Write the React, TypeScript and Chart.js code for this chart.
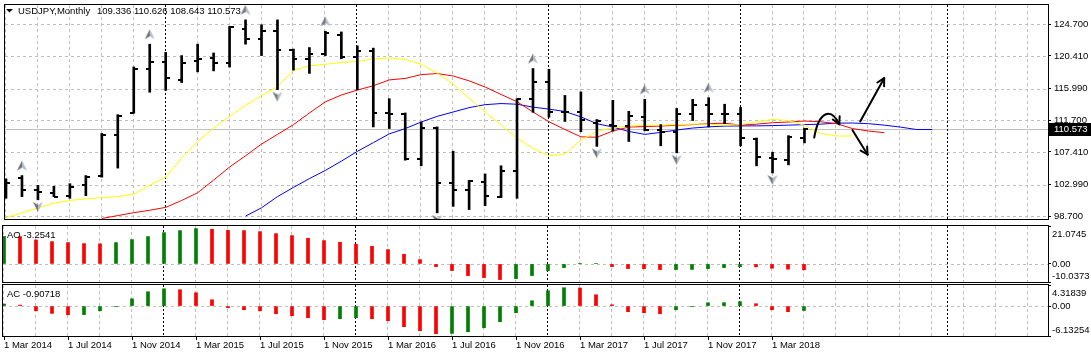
import React, { useEffect, useRef } from 'react';
import { Chart, registerables } from 'chart.js';

Chart.register(...registerables);

// ---------------- data ----------------
const symbolTitle = 'USDJPY,Monthly';
const quoteText = '109.336 110.626 108.643 110.573';
const aoTitle = 'AO -3.2541';
const acTitle = 'AC -0.90718';
const lastPrice = 110.573;

// one label every 4 monthly bars, starting at bar 0
const xLabels = [
  '1 Mar 2014', '1 Jul 2014', '1 Nov 2014', '1 Mar 2015', '1 Jul 2015', '1 Nov 2015',
  '1 Mar 2016', '1 Jul 2016', '1 Nov 2016', '1 Mar 2017', '1 Jul 2017', '1 Nov 2017', '1 Mar 2018',
];
const barsPerLabel = 4;

const opens = [
  102.6, 103.9, 102.33, 101.9, 101.46, 102.9, 104.22, 109.7, 112.65, 118.7,
  119.57, 117.16, 119.75, 120.15, 119.5, 124.1, 122.65, 123.83, 121.2, 119.92,
  120.6, 123.21, 120.23, 121.11, 112.72, 112.6, 106.41, 110.67, 103.2, 102.3,
  103.4, 101.3, 104.9, 114.53, 116.9, 112.8, 112.8, 111.37, 111.11, 110.94,
  112.12, 110.32, 110.15, 112.6, 113.74, 112.6, 112.6, 109.2, 106.6, 106.28,
  109.336,
];
const highs = [
  103.78, 104.22, 102.9, 102.77, 103.12, 104.22, 109.92, 112.46, 118.91, 121.99,
  120.88, 120.45, 121.99, 120.8, 124.4, 125.28, 124.62, 125.28, 121.33, 121.54,
  123.74, 123.65, 121.77, 121.46, 114.62, 112.69, 111.46, 110.8, 107.52, 103.57,
  104.44, 105.54, 114.62, 118.7, 118.61, 115.06, 115.54, 111.8, 114.4, 112.91,
  114.53, 111.11, 113.3, 114.53, 114.75, 113.87, 113.44, 109.3, 107.38, 109.62,
  110.626,
];
const lows = [
  101.15, 101.37, 100.94, 101.37, 101.15, 101.5, 104.0, 105.23, 112.65, 115.49,
  115.75, 116.8, 118.25, 118.38, 118.9, 121.99, 120.45, 115.84, 118.48, 118.04,
  120.45, 120.02, 115.84, 110.8, 110.58, 106.3, 105.54, 99.17, 100.05, 99.62,
  100.15, 101.24, 101.15, 112.78, 112.12, 111.54, 110.15, 108.17, 110.23, 108.83,
  110.28, 108.25, 107.29, 111.67, 110.8, 111.24, 108.25, 105.54, 104.57, 105.67,
  108.643,
];
const closes = [
  103.25, 102.33, 102.03, 101.37, 102.69, 104.09, 109.7, 112.33, 118.7, 119.57,
  117.46, 119.44, 119.95, 119.49, 124.27, 122.65, 123.83, 121.24, 119.92, 120.67,
  123.52, 120.23, 121.11, 112.72, 112.56, 106.45, 110.67, 103.25, 102.25, 103.5,
  101.46, 104.88, 114.53, 116.94, 112.86, 112.8, 111.67, 111.54, 110.94, 112.33,
  110.36, 110.15, 112.51, 113.74, 112.56, 112.6, 109.27, 106.77, 106.4, 109.49,
  110.573,
];

// Alligator lines (shifted forward into the future area)
const lipsStart = 0;
const lips = [
  98.52, 99.2, 99.86, 100.49, 100.85, 101.07, 101.24, 101.37, 101.73, 102.91,
  104.0, 106.63, 108.83, 110.65, 112.23, 113.74, 115.06, 116.24, 118.48, 119.07,
  119.27, 119.53, 119.66, 119.99, 120.12, 119.92, 119.27, 118.08, 116.57, 114.66,
  112.82, 111.04, 109.27, 107.88, 106.9, 107.16, 109.0, 110.19, 110.71, 110.91,
  111.04, 111.04, 111.11, 111.17, 111.17, 111.04, 111.11, 111.5, 111.81, 111.67,
  111.02, 109.92, 109.57, 109.57,
];
const teethStart = 6;
const teeth = [
  98.41, 98.81, 99.2, 99.53, 99.92, 100.85, 101.9, 103.61, 105.38, 106.9,
  108.48, 109.79, 111.11, 112.69, 114.2, 115.12, 115.78, 116.37, 117.16, 117.36,
  117.88, 118.02, 117.69, 117.03, 116.2, 115.19, 114.2, 112.82, 111.5, 110.45,
  109.46, 109.4, 110.25, 110.78, 110.85, 110.91, 111.04, 111.11, 111.24, 111.31,
  111.04, 111.17, 111.37, 111.46, 111.6, 111.5, 111.24, 110.58, 110.25, 110.02,
];
const jawStart = 15;
const jaw = [
  98.74, 99.86, 101.37, 102.62, 103.81, 104.92, 106.17, 107.49, 108.67, 109.86,
  110.58, 111.46, 112.23, 112.82, 113.41, 113.81, 113.96, 113.87, 113.48, 113.21,
  112.88, 112.16, 111.24, 110.78, 110.19, 109.79, 110.06, 110.38, 110.65, 110.81,
  110.91, 110.94, 110.94, 110.98, 111.04, 111.11, 111.17, 111.31, 111.33, 111.24,
  111.04, 110.78, 110.45, 110.45,
];

const aoValues = [
  15.3, 15.19, 13.33, 12.41, 11.85, 11.3, 11.2, 11.85, 13.52, 15.19,
  17.41, 18.52, 19.63, 19.26, 18.7, 18.52, 17.96, 16.85, 15.74, 14.26,
  12.96, 12.04, 10.93, 9.81, 7.96, 5.37, 2.41, -1.48, -3.7, -6.48,
  -7.59, -8.7, -8.15, -6.48, -3.7, -2.04, 0.2, 0.35, -1.48, -2.59,
  -2.6, -3.15, -3.1, -3.05, -2.6, -2.04, -1.48, -1.6, -2.4, -2.9,
  -3.2541,
];
const acValues = [
  0.41, 0.2, -0.96, -1.5, -1.78, -1.75, -0.96, -0.14, 1.5, 2.94,
  3.55, 3.35, 2.73, 1.3, -0.34, -0.75, -0.96, -1.57, -1.98, -2.39,
  -2.8, -2.6, -2.39, -2.6, -3.0, -4.23, -5.05, -5.67, -5.6, -5.26,
  -4.44, -3.21, -1.37, 1.09, 3.14, 3.76, 3.7, 2.32, 0.27, -1.16,
  -1.37, -1.57, -0.75, -0.14, 0.68, 0.7, 0.89, 0.48, -0.75, -1.16,
  -0.90718,
];

const upFractalBars = [1, 9, 15, 20, 33, 40, 44];
const downFractalBars = [2, 17, 27, 37, 42, 48];

const priceTicks = [124.7, 120.41, 115.99, 111.7, 107.41, 102.99, 98.7];
const aoTicks = [21.0745, 0, -10.0373];
const acTicks = [4.31839, 0, -6.13254];
const separatorBars = [10, 22, 34, 46, 59];

// hand-drawn arrows, in (bar index, price)
const curvedArrow = [[50.61, 109.36], [50.9, 112.95], [51.66, 113.48], [52.18, 111.17]];
const straightArrows = [
  [[53.49, 111.54], [54.99, 117.39]],
  [[53.01, 110.36], [53.95, 107.07]],
];

// ---------------- layout / style ----------------
const W = 1091;
const AXIS_W = 43;
const X_MIN = -0.0625;
const X_MAX = 65.25;
const GRID_LAST = 64;
const PRICE_MIN = 98.345;
const PRICE_MAX = 127.292;
const FAMILY = '"Liberation Sans", Arial, sans-serif';
const FSIZE = 9.5;
const FONT_CSS = `${FSIZE}px ${FAMILY}`;
const GRAY = '#c0c0c0';
const GREEN = '#008000';
const RED = '#ff0000';

function drawGrid(chart: any, hValues: number[], priceLine: number | null) {
  const { ctx, chartArea: a } = chart;
  const xs = chart.scales.x;
  const ys = chart.scales.y;
  ctx.save();
  ctx.beginPath();
  ctx.rect(a.left, a.top, a.right - a.left, a.bottom - a.top);
  ctx.clip();
  ctx.lineWidth = 1;
  ctx.strokeStyle = GRAY;
  ctx.setLineDash([3, 3]);
  for (let i = 0; i <= GRID_LAST; i += 2) {
    if (separatorBars.indexOf(i) >= 0) continue;
    const x = Math.round(xs.getPixelForValue(i)) - 0.5;
    ctx.beginPath();
    ctx.moveTo(x, a.top);
    ctx.lineTo(x, a.bottom);
    ctx.stroke();
  }
  for (const v of hValues) {
    const y = Math.round(ys.getPixelForValue(v)) + 0.5;
    ctx.beginPath();
    ctx.moveTo(a.left, y);
    ctx.lineTo(a.right, y);
    ctx.stroke();
  }
  if (priceLine !== null) {
    ctx.setLineDash([]);
    const y = Math.round(ys.getPixelForValue(priceLine)) + 0.5;
    ctx.beginPath();
    ctx.moveTo(a.left, y);
    ctx.lineTo(a.right, y);
    ctx.stroke();
  }
  ctx.strokeStyle = '#000';
  ctx.setLineDash([2, 2]);
  for (const i of separatorBars) {
    const x = Math.round(xs.getPixelForValue(i)) - 0.5;
    ctx.beginPath();
    ctx.moveTo(x, a.top);
    ctx.lineTo(x, a.bottom);
    ctx.stroke();
  }
  ctx.restore();
}

function drawFrame(chart: any) {
  const { ctx, chartArea: a } = chart;
  ctx.save();
  ctx.setLineDash([]);
  ctx.strokeStyle = '#000';
  ctx.lineWidth = 1;
  ctx.strokeRect(a.left - 0.5, a.top - 0.5, a.right - a.left + 1, a.bottom - a.top + 1);
  ctx.restore();
}

function drawText(chart: any, text: string, x: number, y: number, color = '#000') {
  const { ctx } = chart;
  ctx.save();
  ctx.font = FONT_CSS;
  ctx.fillStyle = color;
  ctx.textAlign = 'left';
  ctx.textBaseline = 'middle';
  ctx.fillText(text, x, y);
  ctx.restore();
}

function arrowHead(ctx: any, from: number[], to: number[]) {
  const ang = Math.atan2(to[1] - from[1], to[0] - from[0]);
  const len = 8;
  for (const d of [-0.5, 0.5]) {
    ctx.beginPath();
    ctx.moveTo(to[0], to[1]);
    ctx.lineTo(to[0] - len * Math.cos(ang + d), to[1] - len * Math.sin(ang + d));
    ctx.stroke();
  }
}

function drawHandArrows(chart: any) {
  const { ctx } = chart;
  const xs = chart.scales.x;
  const ys = chart.scales.y;
  const P = (p: number[]) => [xs.getPixelForValue(p[0]), ys.getPixelForValue(p[1])];
  ctx.save();
  ctx.strokeStyle = '#000';
  ctx.lineWidth = 2;
  ctx.lineCap = 'round';
  ctx.lineJoin = 'round';
  const [p0, c1, c2, p3] = curvedArrow.map(P);
  ctx.beginPath();
  ctx.moveTo(p0[0], p0[1]);
  ctx.bezierCurveTo(c1[0], c1[1], c2[0], c2[1], p3[0], p3[1]);
  ctx.stroke();
  arrowHead(ctx, c2, p3);
  for (const seg of straightArrows) {
    const [s, e] = seg.map(P);
    ctx.beginPath();
    ctx.moveTo(s[0], s[1]);
    ctx.lineTo(e[0], e[1]);
    ctx.stroke();
    arrowHead(ctx, s, e);
  }
  ctx.restore();
}

const mainPlugin = {
  id: 'mtMain',
  beforeDatasetsDraw(chart: any) {
    drawGrid(chart, priceTicks, lastPrice);
  },
  afterDatasetsDraw(chart: any) {
    drawHandArrows(chart);
    drawFrame(chart);
    const { ctx } = chart;
    ctx.save();
    ctx.fillStyle = '#000';
    ctx.beginPath();
    ctx.moveTo(6, 9);
    ctx.lineTo(13, 9);
    ctx.lineTo(9.5, 12.5);
    ctx.closePath();
    ctx.fill();
    ctx.restore();
    drawText(chart, symbolTitle, 18, 11);
    drawText(chart, quoteText, 97, 11);
  },
  afterDraw(chart: any) {
    const { ctx, chartArea: a } = chart;
    const y = Math.round(chart.scales.y.getPixelForValue(lastPrice));
    ctx.save();
    ctx.fillStyle = '#000';
    ctx.fillRect(a.right, y - 6, chart.width - a.right, 13);
    ctx.restore();
    drawText(chart, lastPrice.toFixed(3), a.right + 6, y + 0.5, '#fff');
  },
};

function makeOscPlugin(id: string, title: string, ticks: number[]) {
  return {
    id,
    beforeDatasetsDraw(chart: any) {
      drawGrid(chart, [0], null);
    },
    afterDatasetsDraw(chart: any) {
      drawFrame(chart);
      drawText(chart, title, 7, chart.chartArea.top + 9.5);
    },
    afterDraw(chart: any) {
      const ys = chart.scales.y;
      const x = chart.chartArea.right + 4;
      drawText(chart, String(ticks[0]), x, ys.getPixelForValue(ticks[0]) + 8);
      drawText(chart, ticks[1].toFixed(2), x, ys.getPixelForValue(ticks[1]));
      drawText(chart, String(ticks[2]), x, ys.getPixelForValue(ticks[2]) - 5.5);
    },
  };
}

function makeTick(left: boolean) {
  const c = document.createElement('canvas');
  c.width = 8;
  c.height = 2;
  const g = c.getContext('2d')!;
  g.fillStyle = '#000';
  g.fillRect(left ? 0 : 4, 0, 4, 2);
  return c;
}

function makeFractal(up: boolean) {
  const c = document.createElement('canvas');
  c.width = 12;
  c.height = 44;
  const g = c.getContext('2d')!;
  const cx = 6;
  const cy = up ? 12 : 29;
  const s = up ? 1 : -1;
  g.fillStyle = '#6c717c';
  g.beginPath();
  g.moveTo(cx, cy - 5 * s);
  g.lineTo(cx, cy + 2 * s);
  g.lineTo(cx - 5, cy + 5 * s);
  g.closePath();
  g.fill();
  g.fillStyle = '#b6bac4';
  g.beginPath();
  g.moveTo(cx, cy - 5 * s);
  g.lineTo(cx + 5, cy + 5 * s);
  g.lineTo(cx, cy + 2 * s);
  g.closePath();
  g.fill();
  return c;
}

const xScaleHidden = {
  type: 'linear',
  min: X_MIN,
  max: X_MAX,
  bounds: 'data',
  offset: false,
  display: false,
};

function yAxis(min: number, max: number, tickValues: number[], showLabels: boolean) {
  return {
    type: 'linear',
    position: 'right',
    min,
    max,
    bounds: 'data',
    afterBuildTicks: (s: any) => {
      s.ticks = tickValues.map((v) => ({ value: v }));
    },
    afterFit: (s: any) => {
      s.width = AXIS_W;
      s.paddingTop = 0;
      s.paddingBottom = 0;
    },
    ticks: {
      display: showLabels,
      autoSkip: false,
      padding: 3,
      color: '#000',
      font: { family: FAMILY, size: FSIZE },
      callback: (v: any) => Number(v).toFixed(3),
    },
    grid: { drawOnChartArea: false, drawTicks: true, tickLength: 3, color: '#000' },
    border: { display: true, color: '#000' },
  };
}

const baseOptions = {
  responsive: false,
  animation: false,
  devicePixelRatio: 1,
  events: [],
  plugins: { legend: { display: false }, tooltip: { enabled: false } },
};

export default function App() {
  const mainRef = useRef<HTMLCanvasElement>(null);
  const aoRef = useRef<HTMLCanvasElement>(null);
  const acRef = useRef<HTMLCanvasElement>(null);

  useEffect(() => {
    const openImg = makeTick(true);
    const closeImg = makeTick(false);
    const upImg = makeFractal(true);
    const downImg = makeFractal(false);
    const pts = (arr: number[], start = 0) => arr.map((v, k) => ({ x: start + k, y: v }));

    const main = new Chart(mainRef.current!, {
      type: 'line',
      data: {
        datasets: [
          {
            type: 'bar',
            data: highs.map((h, i) => ({ x: i, y: [lows[i], h] })),
            backgroundColor: '#000',
            borderWidth: 0,
            barThickness: 2,
          } as any,
          { data: pts(opens), showLine: false, pointStyle: openImg, pointRadius: 1 },
          { data: pts(closes), showLine: false, pointStyle: closeImg, pointRadius: 1 },
          {
            data: upFractalBars.map((i) => ({ x: i, y: highs[i] })),
            showLine: false,
            pointStyle: upImg,
            pointRadius: 1,
          },
          {
            data: downFractalBars.map((i) => ({ x: i, y: lows[i] })),
            showLine: false,
            pointStyle: downImg,
            pointRadius: 1,
          },
          { data: pts(lips, lipsStart), borderColor: '#ffff00', borderWidth: 1, pointRadius: 0, tension: 0 },
          { data: pts(teeth, teethStart), borderColor: '#ff0000', borderWidth: 1, pointRadius: 0, tension: 0 },
          { data: pts(jaw, jawStart), borderColor: '#0000ff', borderWidth: 1, pointRadius: 0, tension: 0 },
        ],
      },
      options: {
        ...baseOptions,
        layout: { padding: { top: 3, bottom: 1, left: 3, right: 0 } },
        scales: {
          x: xScaleHidden,
          y: yAxis(PRICE_MIN, PRICE_MAX, priceTicks, true),
        },
      } as any,
      plugins: [mainPlugin],
    });

    const colorsFor = (vals: number[]) =>
      vals.map((v, i) => (i === 0 || v > vals[i - 1] ? GREEN : RED));

    const ao = new Chart(aoRef.current!, {
      type: 'bar',
      data: {
        datasets: [
          {
            data: pts(aoValues),
            backgroundColor: colorsFor(aoValues),
            borderWidth: 0,
            barThickness: 3,
          },
        ],
      },
      options: {
        ...baseOptions,
        layout: { padding: { top: 2, bottom: 1, left: 3, right: 0 } },
        scales: {
          x: xScaleHidden,
          y: yAxis(aoTicks[2], aoTicks[0], aoTicks, false),
        },
      } as any,
      plugins: [makeOscPlugin('mtAO', aoTitle, aoTicks)],
    });

    const ac = new Chart(acRef.current!, {
      type: 'bar',
      data: {
        datasets: [
          {
            data: pts(acValues),
            backgroundColor: colorsFor(acValues),
            borderWidth: 0,
            barThickness: 3,
          },
        ],
      },
      options: {
        ...baseOptions,
        layout: { padding: { top: 2, bottom: 0, left: 3, right: 0 } },
        scales: {
          x: {
            type: 'linear',
            min: X_MIN,
            max: X_MAX,
            bounds: 'data',
            offset: false,
            position: 'bottom',
            afterBuildTicks: (s: any) => {
              s.ticks = xLabels.map((_, k) => ({ value: k * barsPerLabel }));
            },
            afterFit: (s: any) => {
              s.height = 21;
              s.paddingLeft = 0;
              s.paddingRight = 0;
            },
            ticks: {
              autoSkip: false,
              maxRotation: 0,
              minRotation: 0,
              align: 'start',
              padding: 0,
              color: '#000',
              font: { family: FAMILY, size: FSIZE },
              callback: (v: any) => xLabels[Math.round(Number(v) / barsPerLabel)],
            },
            grid: { drawOnChartArea: false, drawTicks: true, tickLength: 4, color: '#000', offset: false },
            border: { display: false },
          },
          y: yAxis(acTicks[2], acTicks[0], acTicks, false),
        },
      } as any,
      plugins: [makeOscPlugin('mtAC', acTitle, acTicks)],
    });

    return () => {
      main.destroy();
      ao.destroy();
      ac.destroy();
    };
  }, []);

  return (
    <div
      style={{
        position: 'fixed',
        left: 0,
        top: 0,
        width: W,
        height: 357,
        background: '#fff',
        overflow: 'hidden',
      }}
    >
      <canvas ref={mainRef} width={W} height={224} style={{ position: 'absolute', left: 0, top: 0 }} />
      <canvas ref={aoRef} width={W} height={59} style={{ position: 'absolute', left: 0, top: 224 }} />
      <canvas ref={acRef} width={W} height={74} style={{ position: 'absolute', left: 0, top: 283 }} />
    </div>
  );
}
